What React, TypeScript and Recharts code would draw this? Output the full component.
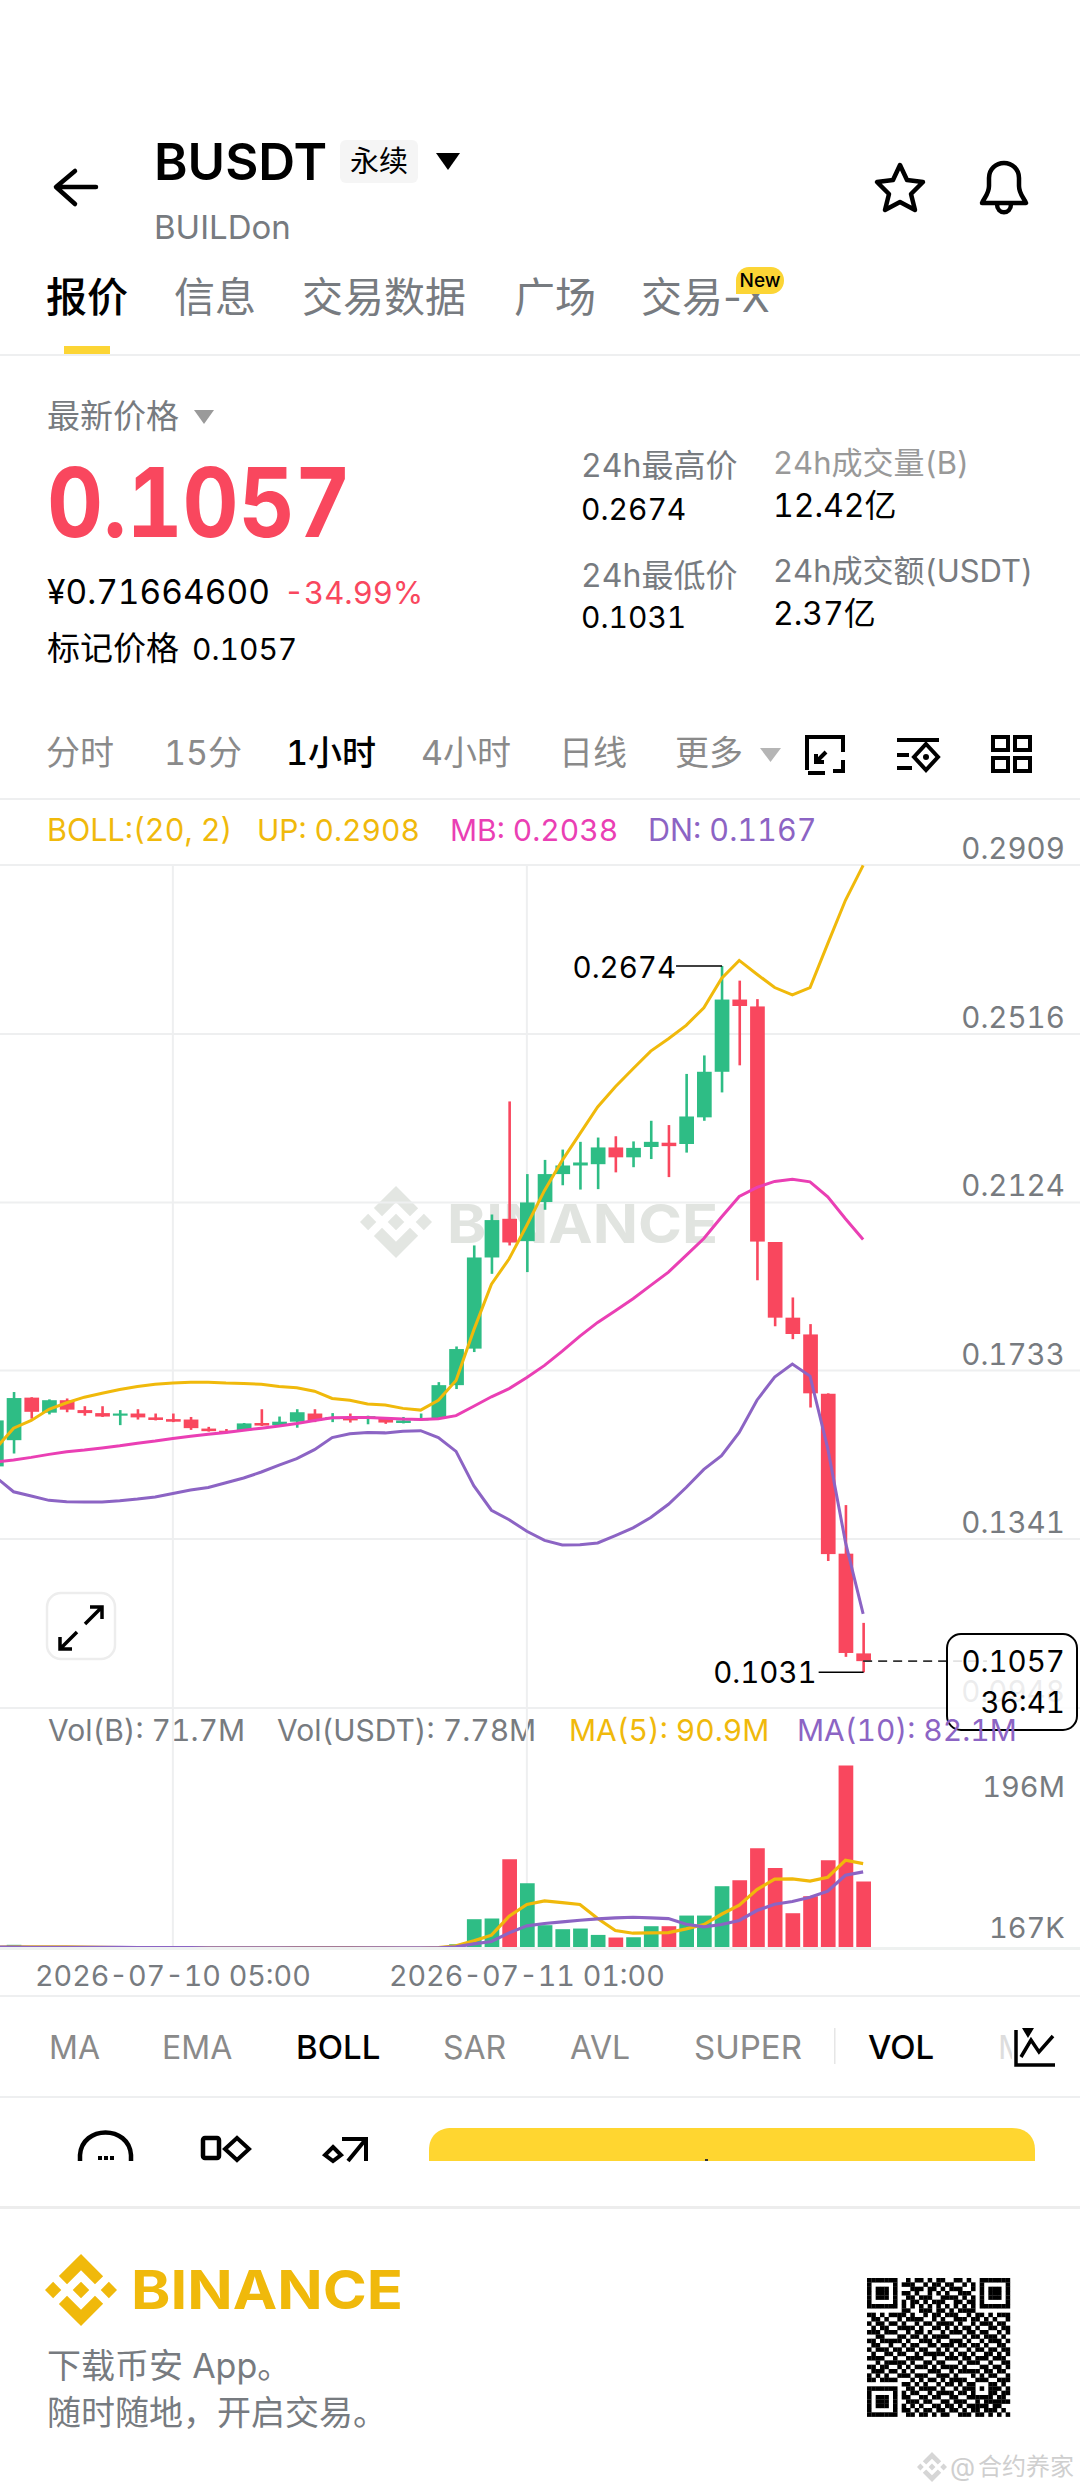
import { Bar, CartesianGrid, Cell, ComposedChart, Line, ReferenceLine, XAxis, YAxis } from "recharts";

const GREEN = "#2EBD85";
const RED = "#F9475E";
const YELLOW = "#F0B90B";
const PINK = "#EA3FB4";
const PURPLE = "#8C64C4";
const GRID = "#EEEFF0";
const GREY = "#777B80";
const FONT = 'Inter, "Noto Sans CJK SC", sans-serif';
const TNUM = { fontVariantNumeric: "tabular-nums" };

// hourly slots, 50 filled and 12 empty on the right
const times = Array.from({ length: 62 }, (_, i) =>
  new Date(Date.UTC(2026, 6, 9, 19 + i)).toISOString().slice(0, 16).replace("T", " ")
);
const dateTicks = ["2026-07-10 05:00", "2026-07-11 01:00"];
const priceTicks = [0.2909, 0.2516, 0.2124, 0.1733, 0.1341, 0.0948];
const volTicks = [0.167, 196];

const opens = [
  0.151, 0.1571, 0.167, 0.1635, 0.1664, 0.1641, 0.1634, 0.1628, 0.1633, 0.1624,
  0.162, 0.1619, 0.1598, 0.1593, 0.1594, 0.1611, 0.1606, 0.1614, 0.1633, 0.162,
  0.1625, 0.1623, 0.1623, 0.1611, 0.1617, 0.1621, 0.1699, 0.1784, 0.1996, 0.2086,
  0.2034, 0.2125, 0.219, 0.221, 0.2213, 0.2252, 0.2229, 0.2253, 0.2263, 0.226,
  0.2322, 0.2428, 0.2596, 0.258, 0.2032, 0.1856, 0.1817, 0.1679, 0.1307, 0.1075,
];
const highs = [
  0.1629, 0.1683, 0.1671, 0.1666, 0.1668, 0.165, 0.165, 0.1641, 0.1643, 0.1633,
  0.1633, 0.1625, 0.1602, 0.1597, 0.1611, 0.1643, 0.1626, 0.1643, 0.1643, 0.1634,
  0.1633, 0.1628, 0.1624, 0.1625, 0.1633, 0.1706, 0.1789, 0.2024, 0.2096, 0.2359,
  0.219, 0.2223, 0.2247, 0.2265, 0.2275, 0.2278, 0.2266, 0.2314, 0.2304, 0.2423,
  0.2466, 0.2674, 0.264, 0.2597, 0.2032, 0.1903, 0.1841, 0.168, 0.142, 0.1146,
];
const lows = [
  0.1501, 0.154, 0.1621, 0.1631, 0.1636, 0.1628, 0.1625, 0.1606, 0.1619, 0.1617,
  0.1613, 0.1595, 0.1591, 0.1587, 0.1593, 0.1604, 0.1605, 0.16, 0.1613, 0.1613,
  0.1612, 0.1608, 0.1609, 0.161, 0.1616, 0.162, 0.169, 0.1776, 0.1958, 0.2024,
  0.1962, 0.2107, 0.2164, 0.2154, 0.2155, 0.2194, 0.2206, 0.2225, 0.2183, 0.224,
  0.2314, 0.238, 0.2443, 0.1943, 0.1836, 0.1806, 0.1647, 0.129, 0.1067, 0.1031,
];
const closes = [
  0.1617, 0.1669, 0.1637, 0.1664, 0.1642, 0.1634, 0.1626, 0.1633, 0.1624, 0.1618,
  0.1614, 0.1599, 0.1592, 0.1588, 0.161, 0.1605, 0.1614, 0.1636, 0.1617, 0.1625,
  0.1617, 0.1627, 0.1612, 0.1617, 0.1622, 0.1699, 0.1783, 0.1996, 0.2083, 0.2031,
  0.2124, 0.219, 0.221, 0.2217, 0.2252, 0.2229, 0.2251, 0.2265, 0.2255, 0.2324,
  0.2428, 0.2596, 0.2581, 0.2033, 0.1856, 0.1818, 0.168, 0.1306, 0.1076, 0.1057,
];
const bollUp = [
  0.1552, 0.1599, 0.1617, 0.1643, 0.1658, 0.1671, 0.168, 0.1689, 0.1696, 0.1701,
  0.1704, 0.1706, 0.1706, 0.1704, 0.1703, 0.1701, 0.1696, 0.1693, 0.1685, 0.1668,
  0.1664, 0.1655, 0.1653, 0.1645, 0.1641, 0.1664, 0.171, 0.1827, 0.1934, 0.1993,
  0.2071, 0.2152, 0.2222, 0.2284, 0.2346, 0.2393, 0.2435, 0.2476, 0.2505, 0.2536,
  0.2577, 0.2645, 0.2687, 0.2655, 0.2624, 0.2607, 0.2624, 0.2726, 0.2827, 0.2908,
];
const bollMid = [
  0.152, 0.1525, 0.1531, 0.1538, 0.1544, 0.1548, 0.1553, 0.1558, 0.1564, 0.1569,
  0.1575, 0.158, 0.1585, 0.1589, 0.1594, 0.1599, 0.1604, 0.161, 0.1617, 0.1623,
  0.1624, 0.1624, 0.1622, 0.162, 0.1619, 0.1621, 0.1628, 0.165, 0.1672, 0.1691,
  0.1717, 0.1745, 0.1778, 0.1813, 0.1845, 0.1872, 0.19, 0.1931, 0.1962, 0.2001,
  0.204, 0.209, 0.2138, 0.2159, 0.2173, 0.2178, 0.2172, 0.2137, 0.2086, 0.2038,
];
const bollDn = [
  0.1485, 0.1451, 0.1441, 0.1431, 0.1428, 0.1427, 0.1427, 0.143, 0.1434, 0.1439,
  0.1447, 0.1455, 0.1461, 0.1472, 0.1483, 0.1497, 0.1513, 0.1528, 0.1549, 0.1577,
  0.1586, 0.1589, 0.1588, 0.1592, 0.1593, 0.1577, 0.1545, 0.1465, 0.1408, 0.1386,
  0.1359, 0.1338, 0.1327, 0.1328, 0.1332, 0.1349, 0.1367, 0.1391, 0.1422, 0.1461,
  0.1503, 0.1535, 0.1589, 0.1664, 0.1718, 0.1748, 0.172, 0.1552, 0.1334, 0.1167,
];
// volumes in millions
const volumes = [
  1.6, 4.0, 1.8, 1.4, 1.2, 1.0, 0.9, 0.8, 1.0, 0.8,
  0.7, 1.0, 0.7, 0.6, 0.8, 1.0, 0.8, 1.2, 0.9, 0.6,
  0.7, 0.5, 0.7, 0.5, 0.4, 1.0, 4.6, 31.4, 32.1, 95.6,
  69.9, 25.0, 20.7, 21.4, 14.6, 11.8, 12.1, 23.9, 23.9, 35.3,
  35.3, 66.7, 73.1, 107.4, 86.3, 37.8, 56.0, 94.5, 196, 71.7,
];
const ma5 = [
  1.6, 1.9, 1.9, 1.9, 1.9, 1.6, 1.2, 1.1, 1.0, 0.9,
  0.8, 0.8, 0.8, 0.8, 0.8, 0.8, 0.8, 0.9, 0.9, 0.9,
  0.9, 0.8, 0.7, 0.6, 0.6, 0.9, 2.9, 8.2, 14.3, 34.6,
  47.1, 51.0, 49.2, 47.1, 32.1, 19.3, 16.4, 16.8, 17.1, 21.0,
  25.7, 36.7, 46.4, 63.1, 74.2, 74.6, 72.1, 76.3, 94.5, 90.9,
];
const ma10 = [
  1.6, 1.5, 1.4, 1.4, 1.4, 1.4, 1.3, 1.2, 1.1, 1.1,
  1.0, 0.9, 0.8, 0.8, 0.8, 0.8, 0.8, 0.8, 0.8, 0.8,
  0.8, 0.8, 0.8, 0.7, 0.7, 0.8, 1.8, 5.0, 7.5, 16.8,
  24.3, 26.8, 28.5, 30.3, 31.7, 32.8, 33.5, 32.8, 32.1, 26.0,
  23.2, 25.7, 30.0, 40.7, 47.4, 50.3, 54.9, 61.4, 78.5, 82.1,
];

const qrRows = [
  "111111100101101011001101001111111",
  "100000101110010110110010101000001",
  "101110100011101101011100101011101",
  "101110101101001010100111001011101",
  "101110100110111001111010101011101",
  "100000101011010111001101101000001",
  "111111101010101010101010101111111",
  "000000001100111011010111100000000",
  "110101111010010110111001011010111",
  "011010010111100101001110110101001",
  "101101101001011011110100101110110",
  "010110011110100110101011010011011",
  "111011100101101001011101101100101",
  "001100011011010111100010110111010",
  "110111110100111010011101001011101",
  "011001001011001101110110110100110",
  "101110110110110010101001011011011",
  "010011011001011111010110100110101",
  "111100100111100100111011011101110",
  "001011111010011011000101110010011",
  "110110010101110101111010001101101",
  "011101101010001110010111110110110",
  "101010011101110011101000101011001",
  "110111100010101101011110011100111",
  "000000001101010010110101100011010",
  "111111100110111101001011101011101",
  "100000101011001011110110100011011",
  "101110101100110110011001111110110",
  "101110100111011001101110010111111",
  "101110101010100110110101111101100",
  "100000101101011011011010110111010",
  "111111100110110101100111011010101",
  "000000000000000000000000000000000",
];

const logoPath =
  "M38.73 53.2l24.59-24.58 24.6 24.6 14.3-14.31L63.32 0 24.43 38.9z M0 63.31l14.3-14.31 14.31 14.31-14.31 14.3z M38.73 73.41l24.59 24.59 24.6-24.6 14.31 14.29-38.9 38.91-38.91-38.88z M98 63.31l14.3-14.31 14.31 14.3-14.31 14.32z M77.83 63.3L63.32 48.78 52.59 59.51l-1.24 1.23-2.54 2.54 14.51 14.5 14.51-14.47z";

const rows = times.map((t, i) =>
  i < 50
    ? {
        t,
        open: opens[i],
        high: highs[i],
        low: lows[i],
        close: closes[i],
        range: [lows[i], highs[i]],
        up: bollUp[i],
        mid: bollMid[i],
        dn: bollDn[i],
        vol: volumes[i],
        ma5: ma5[i],
        ma10: ma10[i],
      }
    : { t }
);

const lastClose = closes[closes.length - 1];
const topHigh = Math.max(...highs);
const bottomLow = Math.min(...lows);

// the plot starts left of the page so the first candle is cut by the page edge
const PLOT_LEFT = -12.85;
const PLOT_WIDTH = 1097.4;
const LABEL_X = 1065 - PLOT_LEFT;

function Candle(props: any) {
  const { x, y, width, height, payload } = props;
  if (!payload || payload.open == null) return null;
  const { open, high, low, close } = payload;
  const color = close >= open ? GREEN : RED;
  const perUnit = height / (high - low);
  const bodyTop = y + (high - Math.max(open, close)) * perUnit;
  const bodyHeight = Math.max(Math.abs(open - close) * perUnit, 2);
  const cx = x + width / 2;
  return (
    <g>
      <rect x={cx - 1.3} y={y} width={2.6} height={height} fill={color} />
      <rect x={x} y={bodyTop} width={width} height={bodyHeight} fill={color} />
      {high === topHigh && (
        <g>
          <line x1={cx - 46} x2={cx} y1={y} y2={y} stroke="#000" strokeWidth={1.6} />
          <text x={cx - 46} y={y + 12} textAnchor="end" fontSize={29.5} fontFamily={FONT} fill="#000" style={TNUM}>
            {high.toFixed(4)}
          </text>
        </g>
      )}
      {low === bottomLow && (
        <g>
          <line x1={cx - 45} x2={cx} y1={y + height} y2={y + height} stroke="#000" strokeWidth={1.6} />
          <text x={cx - 47} y={y + height + 11} textAnchor="end" fontSize={29.5} fontFamily={FONT} fill="#000" style={TNUM}>
            {low.toFixed(4)}
          </text>
        </g>
      )}
    </g>
  );
}

function PriceTick({ y, payload }: any) {
  return (
    <text x={LABEL_X} y={y - 6} textAnchor="end" fontSize={29.5} fontFamily={FONT} fill={GREY} style={TNUM}>
      {payload.value.toFixed(4)}
    </text>
  );
}

function VolTick({ y, payload }: any) {
  const isTop = payload.value > 1;
  return (
    <text x={LABEL_X} y={isTop ? y + 32 : y - 10} textAnchor="end" fontSize={29} fontFamily={FONT} fill={GREY} style={TNUM}>
      {isTop ? "196M" : "167K"}
    </text>
  );
}

function DateTick({ x, y, payload }: any) {
  return (
    <text x={x} y={y + 30} textAnchor="middle" fontSize={28.7} fontFamily={FONT} fill={GREY} style={TNUM}>
      {payload.value}
    </text>
  );
}

function T({ x, y, s, c = GREY, w = 400, a = "start", children, len, plain }: any) {
  return (
    <text
      x={x}
      y={y}
      fontSize={s}
      fill={c}
      fontWeight={w}
      textAnchor={a}
      fontFamily={FONT}
      textLength={len}
      lengthAdjust={len ? "spacingAndGlyphs" : undefined}
      style={plain ? undefined : TNUM}
    >
      {children}
    </text>
  );
}

function Logo({ x, y, size, fill }: any) {
  return (
    <g transform={`translate(${x} ${y}) scale(${size / 126.61})`}>
      <path d={logoPath} fill={fill} />
    </g>
  );
}

function BackLayer() {
  const qrCell = 143 / 33;
  return (
    <svg width={1080} height={2491} style={{ position: "absolute", left: 0, top: 0 }}>
      {/* header */}
      <path d="M96 187H57M75 171L56 187L75 204" fill="none" stroke="#000" strokeWidth={4.5} strokeLinecap="round" strokeLinejoin="round" />
      <T x={154} y={180} s={51} c="#000" w={600}>BUSDT</T>
      <rect x={340} y={140} width={78} height={43} rx={6} fill="#F5F5F5" />
      <T x={379} y={172} s={29} c="#000" a="middle">永续</T>
      <path d="M436 153H460L448 170Z" fill="#000" />
      <T x={154} y={239} s={33}>BUILDon</T>
      <path d="M900 165L907 180L923 182L911 194L915 210L900 202L885 210L889 194L877 182L893 180Z" fill="none" stroke="#000" strokeWidth={4.5} strokeLinejoin="round" />
      <path d="M982 203C984 198 989 194 989 186V178C989 169 996 163 1004 163C1012 163 1019 169 1019 178V186C1019 194 1024 198 1026 203ZM997 204C997 215 1011 215 1011 204" fill="none" stroke="#000" strokeWidth={4.5} strokeLinejoin="round" />
      <T x={46} y={312} s={41} c="#000" w={500}>报价</T>
      <T x={174} y={312} s={41} w={400}>信息</T>
      <T x={302} y={312} s={41} w={400}>交易数据</T>
      <T x={514} y={312} s={41} w={400}>广场</T>
      <T x={641} y={312} s={41} w={400} plain>交易-X</T>
      <path d="M749 267H771C778 267 784 273 784 280V281C784 288 778 294 771 294H736V280C736 273 742 267 749 267Z" fill="#FCD535" />
      <T x={760} y={287} s={19} c="#000" a="middle" w={500}>New</T>
      <rect x={64} y={346} width={46} height={8} fill="#FCD535" />
      <rect x={0} y={354} width={1080} height={2} fill={GRID} />

      {/* price block */}
      <T x={47} y={428} s={33}>最新价格</T>
      <path d="M194 410H214L204 424Z" fill="#9A9A9A" />
      <T x={47} y={537} s={96} c={RED} w={700} len={304}>0.1057</T>
      <T x={47} y={604} s={33.5} c="#000">¥0.71664600</T>
      <T x={284} y={604} s={31} c={RED}>-34.99%</T>
      <T x={47} y={660} s={33} c="#000">标记价格</T>
      <T x={192} y={660} s={30} c="#000">0.1057</T>
      <T x={581} y={477} s={32}>24h最高价</T>
      <T x={581} y={520} s={30} c="#000">0.2674</T>
      <T x={581} y={587} s={32}>24h最低价</T>
      <T x={581} y={628} s={30} c="#000">0.1031</T>
      <T x={773} y={474} s={31} c="#999">24h成交量(B)</T>
      <T x={773} y={517} s={32} c="#000">12.42亿</T>
      <T x={773} y={582} s={31}>24h成交额(USDT)</T>
      <T x={773} y={625} s={32} c="#000">2.37亿</T>

      {/* period row */}
      <T x={46} y={765} s={34} c="#8A8A8A">分时</T>
      <T x={164} y={765} s={34} c="#8A8A8A">15分</T>
      <T x={286} y={765} s={34} c="#000" w={500}>1小时</T>
      <T x={421} y={765} s={34} c="#8A8A8A">4小时</T>
      <T x={559} y={765} s={34} c="#8A8A8A">日线</T>
      <T x={675} y={765} s={34} c="#8A8A8A">更多</T>
      <path d="M760 748H781L770.5 762Z" fill="#B5B5B5" />
      <path d="M807 770V737H843V752M825 773H808M816 762L826 752M816 754V762H824M843 760V771H833" fill="none" stroke="#000" strokeWidth={4} />
      <path d="M897 740H939M897 768H912M897 755H909" fill="none" stroke="#000" strokeWidth={4} />
      <path d="M926 744L938 757L926 770L914 757Z" fill="none" stroke="#000" strokeWidth={4} />
      <circle cx={926} cy={757} r={3} fill="#000" />
      <rect x={993} y={737} width={15} height={13} fill="none" stroke="#000" strokeWidth={4} />
      <rect x={1015} y={737} width={15} height={13} fill="none" stroke="#000" strokeWidth={4} />
      <rect x={993} y={758} width={15} height={13} fill="none" stroke="#000" strokeWidth={4} />
      <rect x={1015} y={758} width={15} height={13} fill="none" stroke="#000" strokeWidth={4} />
      <rect x={0} y={798} width={1080} height={2} fill={GRID} />

      {/* legend rows */}
      <T x={47} y={841} s={30.5} c={YELLOW}>BOLL:(20, 2)</T>
      <T x={257} y={841} s={30} c={YELLOW}>UP: 0.2908</T>
      <T x={450} y={841} s={30} c={PINK}>MB: 0.2038</T>
      <T x={648} y={841} s={30.5} c={PURPLE}>DN: 0.1167</T>

      {/* watermark */}
      <Logo x={360} y={1186} size={72} fill="#E3E6E2" />
      <T x={447} y={1243} s={54} c="#E1E4E0" w={700} len={271}>BINANCE</T>

      {/* expand button */}
      <rect x={47} y={1593} width={68} height={66} rx={14} fill="#fff" stroke="#EDEDED" strokeWidth={2.5} />
      <path d="M85 1624L102 1607M90 1607H102V1619M77 1632L60 1649M72 1649H60V1637" fill="none" stroke="#000" strokeWidth={3.5} />

      <T x={48} y={1741} s={30}>Vol(B): 71.7M</T>
      <T x={277} y={1741} s={30}>Vol(USDT): 7.78M</T>
      <T x={569} y={1741} s={30} c={YELLOW}>MA(5): 90.9M</T>

      {/* indicator tabs */}
      <rect x={0} y={1995} width={1080} height={2} fill={GRID} />
      <T x={49} y={2059} s={32} c="#8A8A8A">MA</T>
      <T x={162} y={2059} s={32} c="#8A8A8A">EMA</T>
      <T x={296} y={2059} s={33} c="#000" w={500}>BOLL</T>
      <T x={443} y={2059} s={32} c="#8A8A8A">SAR</T>
      <T x={570} y={2059} s={32} c="#8A8A8A">AVL</T>
      <T x={694} y={2059} s={33} c="#8A8A8A">SUPER</T>
      <rect x={834} y={2028} width={1.5} height={36} fill="#E6E6E6" />
      <T x={868} y={2059} s={33} c="#000" w={500}>VOL</T>
      <T x={998} y={2059} s={32} c="#DDDDDD">M</T>
      <rect x={1012} y={2020} width={60} height={50} fill="#fff" />
      <path d="M1016 2030V2065H1055M1021 2057L1031 2040L1039 2052L1053 2036" fill="none" stroke="#000" strokeWidth={3.5} />
      <path d="M1022 2028H1034L1028 2038Z" fill="#000" />
      <rect x={0} y={2096} width={1080} height={2} fill={GRID} />

      {/* cut off action bar */}
      <path d="M80 2161V2155C82 2125 129 2125 131 2155V2161" fill="none" stroke="#000" strokeWidth={4.5} />
      <path d="M98 2158h4M104 2158h4M110 2158h4" stroke="#000" strokeWidth={4} />
      <rect x={203} y={2138} width={16} height={20} rx={2} fill="none" stroke="#000" strokeWidth={4.5} />
      <path d="M237 2138L249 2149L237 2160L225 2149Z" fill="none" stroke="#000" strokeWidth={4} />
      <path d="M333 2147L341 2155L333 2161L325 2155Z" fill="none" stroke="#000" strokeWidth={4} />
      <path d="M342 2139H366V2161M366 2139L348 2161" fill="none" stroke="#000" strokeWidth={4} />
      <path d="M429 2161V2150C429 2136 438 2128 452 2128H1012C1026 2128 1035 2136 1035 2150V2161Z" fill="#FFD630" />
      <rect x={705} y={2159} width={3} height={2} fill="#333" />
      <rect x={0} y={2206} width={1080} height={3} fill="#EDEDED" />

      {/* footer */}
      <Logo x={45} y={2254} size={72} fill={YELLOW} />
      <T x={131} y={2309} s={54} c={YELLOW} w={700} len={272}>BINANCE</T>
      <T x={47} y={2378} s={34}>下载币安 App。</T>
      <T x={47} y={2425} s={34}>随时随地，开启交易。</T>
      <g fill="#000">
        {qrRows.map((row, r) =>
          row.split("").map((cell, col) =>
            cell === "1" ? (
              <rect key={`${r}-${col}`} x={867 + col * qrCell} y={2278 + r * qrCell} width={qrCell + 0.2} height={qrCell + 0.2} />
            ) : null
          )
        )}
      </g>
      <Logo x={917} y={2452} size={30} fill="#D6D6D6" />
      <T x={950} y={2476} s={26} c="#CFCFCF">@</T>
      <T x={978} y={2475} s={24} c="#CFCFCF">合约养家</T>
    </svg>
  );
}

function FrontLayer() {
  return (
    <svg width={1080} height={2491} style={{ position: "absolute", left: 0, top: 0, pointerEvents: "none" }}>
      <rect x={947} y={1634} width={130} height={96} rx={14} fill="#fff" fillOpacity={0.86} stroke="#000" strokeWidth={2} />
      <T x={1065} y={1672} s={29.5} c="#000" a="end">0.1057</T>
      <T x={1065} y={1713} s={29.5} c="#000" a="end">36:41</T>
      <T x={797} y={1741} s={30} c={PURPLE}>MA(10): 82.1M</T>
    </svg>
  );
}

export default function App() {
  return (
    <div style={{ position: "absolute", left: 0, top: 0, width: 1080, height: 2491, overflow: "hidden", background: "#fff" }}>
      <BackLayer />
      <div style={{ position: "absolute", left: PLOT_LEFT, top: 824.7 }}>
        <ComposedChart width={PLOT_WIDTH} height={903} data={rows} margin={{ top: 40, right: 0, bottom: 20, left: 0 }}>
          <CartesianGrid stroke={GRID} strokeWidth={2} />
          <XAxis dataKey="t" hide ticks={dateTicks} interval={0} />
          <YAxis
            type="number"
            orientation="right"
            mirror
            domain={[0.0948, 0.2909]}
            ticks={priceTicks}
            interval={0}
            axisLine={false}
            tickLine={false}
            tick={<PriceTick />}
          />
          <Bar dataKey="range" barSize={14.7} shape={Candle} isAnimationActive={false} />
          <Line dataKey="up" stroke={YELLOW} strokeWidth={3} dot={false} isAnimationActive={false} />
          <Line dataKey="mid" stroke={PINK} strokeWidth={3} dot={false} isAnimationActive={false} />
          <Line dataKey="dn" stroke={PURPLE} strokeWidth={3} dot={false} isAnimationActive={false} />
          <ReferenceLine
            segment={[
              { x: times[49], y: lastClose },
              { x: times[56], y: lastClose },
            ]}
            stroke="#333"
            strokeWidth={1.6}
            strokeDasharray="9 6"
          />
        </ComposedChart>
      </div>
      <div style={{ position: "absolute", left: PLOT_LEFT, top: 1707.6 }}>
        <ComposedChart width={PLOT_WIDTH} height={288.4} data={rows} margin={{ top: 0, right: 0, bottom: 0, left: 0 }}>
          <CartesianGrid stroke={GRID} strokeWidth={2} horizontal={false} />
          <XAxis
            dataKey="t"
            ticks={dateTicks}
            interval={0}
            height={48}
            axisLine={{ stroke: "#EEF1F0", strokeWidth: 3 }}
            tickLine={false}
            tick={<DateTick />}
          />
          <YAxis
            type="number"
            orientation="right"
            mirror
            domain={[0.167, 257.4]}
            ticks={volTicks}
            interval={0}
            axisLine={false}
            tickLine={false}
            tick={<VolTick />}
          />
          <Bar dataKey="vol" barSize={14.7} isAnimationActive={false}>
            {rows.map((row: any) => (
              <Cell key={row.t} fill={row.close >= row.open ? GREEN : RED} />
            ))}
          </Bar>
          <Line dataKey="ma5" stroke={YELLOW} strokeWidth={3.2} dot={false} isAnimationActive={false} />
          <Line dataKey="ma10" stroke={PURPLE} strokeWidth={3.2} dot={false} isAnimationActive={false} />
        </ComposedChart>
      </div>
      <FrontLayer />
    </div>
  );
}
